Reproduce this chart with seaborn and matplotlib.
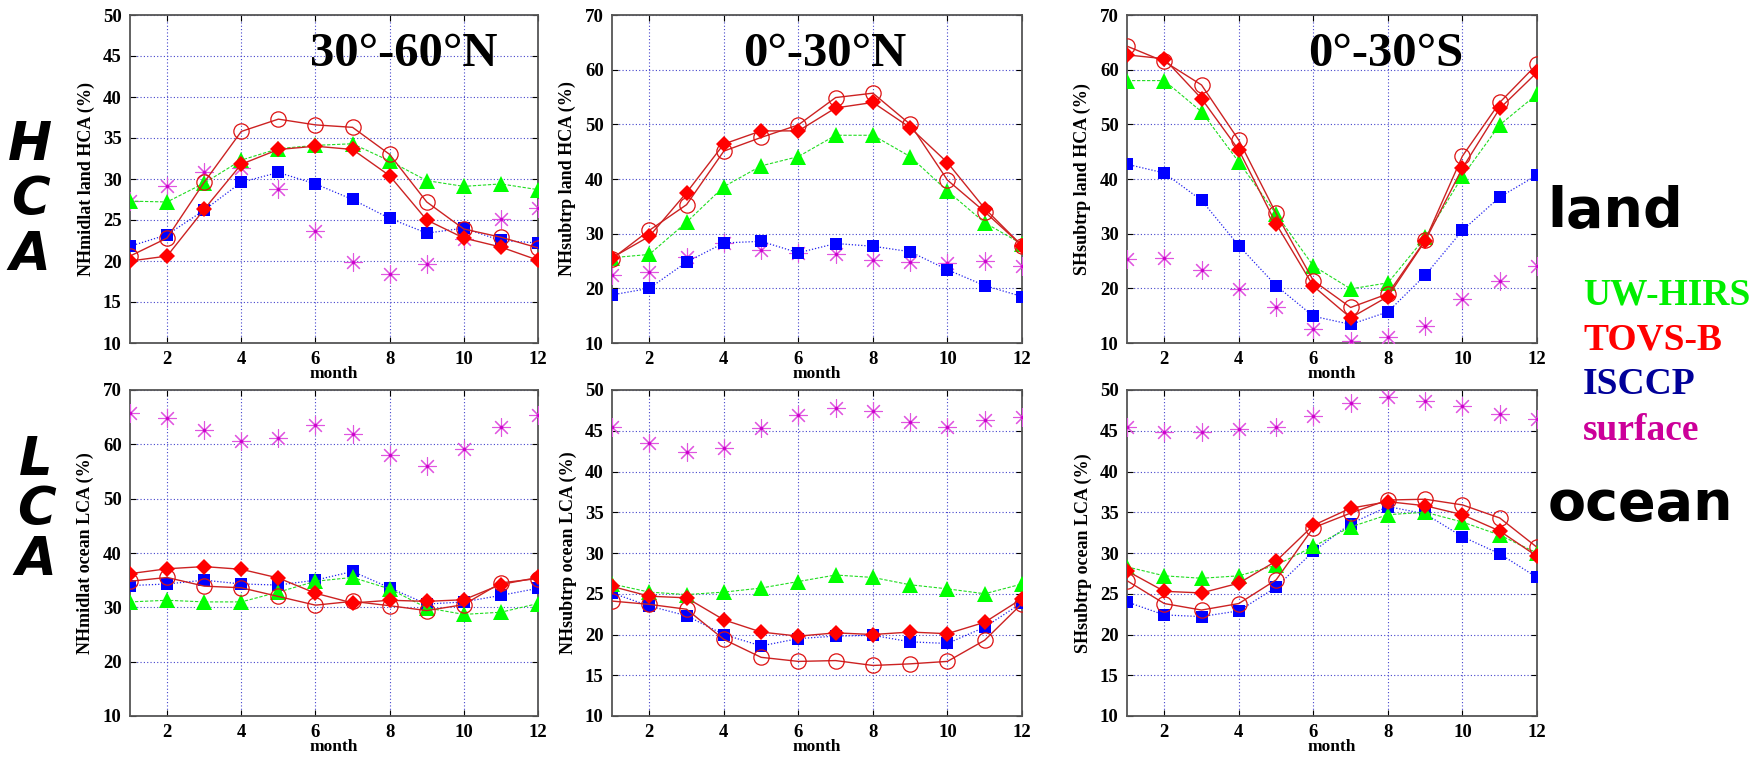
import numpy as np
import pandas as pd
import matplotlib
matplotlib.use("Agg")
import matplotlib.pyplot as plt
import seaborn as sns

# ---------------- data ----------------
months = [1, 2, 3, 4, 5, 6, 7, 8, 9, 10, 11, 12]
xtick_vals = [2, 4, 6, 8, 10, 12]

panel_titles = ["30\u00b0-60\u00b0N", "0\u00b0-30\u00b0N", "0\u00b0-30\u00b0S", "", "", ""]
ylabels = ["NHmidlat land HCA (%)", "NHsubtrp land HCA (%)", "SHsubtrp land HCA (%)",
           "NHmidlat ocean LCA (%)", "NHsubtrp ocean LCA (%)", "SHsubtrp ocean LCA (%)"]
ylims = [(10, 50), (10, 70), (10, 70), (10, 70), (10, 50), (10, 50)]
ysteps = [5, 10, 10, 10, 5, 5]

# UW-HIRS (green triangles)
uw_hirs = [
    [27.3, 27.2, 29.5, 32.3, 33.7, 34.1, 34.3, 32.2, 29.8, 29.1, 29.4, 28.7],
    [25.6, 26.2, 32.1, 38.6, 42.4, 44.1, 48.0, 48.0, 44.1, 37.8, 32.0, 28.1],
    [58.0, 58.0, 52.3, 43.1, 33.6, 24.1, 19.9, 21.0, 29.3, 40.5, 49.9, 55.5],
    [31.0, 31.3, 31.0, 31.0, 32.8, 34.8, 35.5, 33.4, 29.9, 28.7, 29.1, 30.7],
    [26.2, 25.2, 24.9, 25.2, 25.7, 26.5, 27.3, 27.0, 26.1, 25.6, 25.0, 26.2],
    [28.3, 27.2, 26.9, 27.2, 28.5, 30.8, 33.2, 34.7, 35.0, 33.8, 32.2, 30.0],
]
# TOVS-B (red filled diamonds)
tovs_b = [
    [20.0, 20.6, 26.3, 31.8, 33.6, 34.0, 33.6, 30.4, 25.0, 22.8, 21.7, 20.1],
    [25.6, 29.5, 37.5, 46.4, 48.8, 48.8, 53.0, 54.0, 49.4, 43.0, 34.6, 27.8],
    [62.7, 62.0, 54.7, 45.3, 31.8, 20.4, 14.6, 18.5, 28.7, 42.0, 52.9, 59.5],
    [36.2, 37.1, 37.5, 37.0, 35.4, 32.6, 30.8, 31.3, 31.1, 31.4, 34.2, 35.5],
    [25.9, 24.7, 24.5, 21.8, 20.3, 19.8, 20.2, 20.0, 20.3, 20.1, 21.5, 24.4],
    [27.8, 25.3, 25.1, 26.3, 29.0, 33.4, 35.5, 36.3, 35.8, 34.7, 32.7, 29.6],
]
# TOVS-B second version (red open circles)
tovs_b2 = [
    [20.6, 22.8, 29.6, 35.8, 37.3, 36.6, 36.3, 33.0, 27.2, 23.9, 22.9, 21.6],
    [25.4, 30.6, 35.3, 45.1, 47.6, 49.9, 54.9, 55.7, 50.0, 39.8, 34.0, 27.8],
    [64.3, 61.5, 57.2, 47.1, 33.7, 21.4, 16.5, 19.0, 28.8, 44.2, 54.0, 61.0],
    [34.8, 35.5, 33.9, 33.6, 32.0, 30.4, 31.1, 30.3, 29.4, 30.5, 34.5, 35.3],
    [24.1, 23.7, 23.1, 19.4, 17.2, 16.7, 16.8, 16.2, 16.4, 16.7, 19.3, 23.8],
    [26.6, 23.8, 23.0, 23.8, 26.7, 33.1, 34.9, 36.5, 36.6, 35.9, 34.3, 30.7],
]
# ISCCP (blue squares)
isccp = [
    [21.8, 23.2, 26.2, 29.6, 30.8, 29.4, 27.5, 25.2, 23.4, 24.0, 22.5, 22.2],
    [18.8, 20.0, 24.8, 28.3, 28.6, 26.5, 28.2, 27.7, 26.7, 23.4, 20.5, 18.5],
    [42.7, 41.1, 36.1, 27.8, 20.5, 14.9, 13.4, 15.7, 22.4, 30.6, 36.7, 40.7],
    [34.0, 34.3, 35.0, 34.3, 34.1, 35.0, 36.6, 33.6, 30.6, 31.0, 32.2, 33.5],
    [25.1, 23.5, 22.3, 20.0, 18.6, 19.5, 19.8, 19.9, 19.1, 18.9, 20.9, 23.9],
    [24.0, 22.4, 22.2, 22.9, 25.8, 30.2, 33.6, 35.7, 34.8, 32.0, 29.9, 27.0],
]
# surface observations (magenta asterisks)
surface = [
    [27.3, 29.1, 30.8, 31.4, 28.8, 23.6, 19.9, 18.4, 19.6, 22.7, 25.1, 26.5],
    [22.4, 23.0, 25.8, 28.3, 27.1, 26.5, 26.2, 25.1, 24.9, 24.7, 25.0, 24.1],
    [25.4, 25.6, 23.4, 19.9, 16.5, 12.5, 10.4, 11.1, 13.2, 18.1, 21.4, 24.0],
    [65.7, 64.8, 62.7, 60.6, 61.2, 63.6, 61.9, 58.1, 56.1, 59.2, 63.1, 65.4],
    [45.4, 43.5, 42.4, 42.9, 45.3, 46.9, 47.8, 47.4, 46.1, 45.4, 46.3, 46.7],
    [45.4, 44.9, 44.9, 45.2, 45.5, 46.8, 48.4, 49.1, 48.7, 48.0, 47.1, 46.4],
]

legend_names = ["UW-HIRS", "TOVS-B", "ISCCP", "surface"]
legend_colors = ["#00ee00", "#ff0000", "#000099", "#cc0099"]

# ---------------- style ----------------
sns.set_style("white")
plt.rcParams["font.family"] = ["Liberation Serif", "DejaVu Serif"]
plt.rcParams["font.weight"] = "bold"
plt.rcParams["axes.labelweight"] = "bold"
plt.rcParams["text.color"] = "black"
plt.rcParams["axes.labelcolor"] = "black"
plt.rcParams["xtick.color"] = "black"
plt.rcParams["ytick.color"] = "black"

fig = plt.figure(figsize=(17.62, 7.61), dpi=100)

W, H = 1762.0, 761.0
col_px = [(130, 538), (612, 1022), (1127, 1537)]
row_px = [(15, 343), (390, 716)]
title_pos = [(0.67, 0.88), (0.52, 0.88), (0.63, 0.88)]

asterisk = (8, 2, 0)

for i in range(6):
    r, c = divmod(i, 3)
    x0, x1 = col_px[c]
    y0, y1 = row_px[r]
    ax = fig.add_axes([x0 / W, 1 - y1 / H, (x1 - x0) / W, (y1 - y0) / H])

    df = pd.DataFrame({
        "month": months,
        "uw": uw_hirs[i],
        "tb": tovs_b[i],
        "tb2": tovs_b2[i],
        "is": isccp[i],
        "sf": surface[i],
    })

    sns.lineplot(data=df, x="month", y="sf", ax=ax, color="#e055e0", linestyle="none",
                 marker=asterisk, markersize=13, markeredgewidth=0.8,
                 markeredgecolor="#e055e0", zorder=3)
    sns.lineplot(data=df, x="month", y="sf", ax=ax, color="#cc00cc", linestyle="none",
                 marker="o", markersize=2.5, markeredgewidth=0, zorder=3)
    sns.lineplot(data=df, x="month", y="is", ax=ax, color="#2222ee", linestyle=(0, (1, 1.5)),
                 linewidth=0.9, marker="s", markersize=9, markeredgewidth=0,
                 markerfacecolor="#0000ff", zorder=4)
    sns.lineplot(data=df, x="month", y="uw", ax=ax, color="#22dd22", linestyle=(0, (3, 1.5)),
                 linewidth=0.8, marker="^", markersize=11, markeredgewidth=0,
                 markerfacecolor="#00ff00", zorder=5)
    sns.lineplot(data=df, x="month", y="tb2", ax=ax, color="#cc2222", linestyle="-",
                 linewidth=1.0, marker="o", markersize=11, markeredgewidth=0.9,
                 markerfacecolor="none", markeredgecolor="#dd1111", zorder=6)
    sns.lineplot(data=df, x="month", y="tb", ax=ax, color="#cc2222", linestyle="-",
                 linewidth=1.0, marker="D", markersize=8.5, markeredgewidth=0,
                 markerfacecolor="#ff0000", zorder=7)

    lo, hi = ylims[i]
    ax.set_xlim(1, 12)
    ax.set_ylim(lo, hi)
    ax.set_xticks(xtick_vals)
    ax.set_yticks(np.arange(lo, hi + 0.1, ysteps[i]))
    ax.grid(True, color="#4444cc", linestyle=(0, (1, 2)), linewidth=0.8)
    ax.tick_params(axis="both", direction="in", length=4, labelsize=13.5,
                   left=True, bottom=True, top=True, right=True, pad=6,
                   colors="black")
    for lab in ax.get_xticklabels() + ax.get_yticklabels():
        lab.set_fontweight("bold")
    for sp in ax.spines.values():
        sp.set_color("#555555")
        sp.set_linewidth(1.3)
    ax.set_ylabel(ylabels[i], fontsize=13, fontweight="bold", labelpad=6, color="black")
    ax.set_xlabel("month", fontsize=12.5, fontweight="bold", labelpad=-2, color="black")
    if panel_titles[i]:
        tx, ty = title_pos[c]
        ax.text(tx, ty, panel_titles[i], transform=ax.transAxes, ha="center", va="center",
                fontsize=35, fontweight="bold", color="black", zorder=10)

# left stacked labels
for k, ch in enumerate("HCA"):
    fig.text(30 / W, 1 - (145 + k * 55) / H, ch, ha="center", va="center",
             fontsize=38, fontweight="bold", style="italic", family="DejaVu Sans",
             color="black")
for k, ch in enumerate("LCA"):
    fig.text(36 / W, 1 - (460 + k * 50) / H, ch, ha="center", va="center",
             fontsize=38, fontweight="bold", style="italic", family="DejaVu Sans",
             color="black")

# right labels
fig.text(1615 / W, 1 - 212 / H, "land", ha="center", va="center", fontsize=40,
         fontweight="bold", family="DejaVu Sans", color="black")
fig.text(1640 / W, 1 - 505 / H, "ocean", ha="center", va="center", fontsize=40,
         fontweight="bold", family="DejaVu Sans", color="black")

leg_y = [295, 340, 385, 430]
for name, col, yy in zip(legend_names, legend_colors, leg_y):
    fig.text(1583 / W, 1 - yy / H, name, ha="left", va="center", fontsize=27,
             fontweight="bold", color=col)

fig.savefig("out.png", dpi=100)
